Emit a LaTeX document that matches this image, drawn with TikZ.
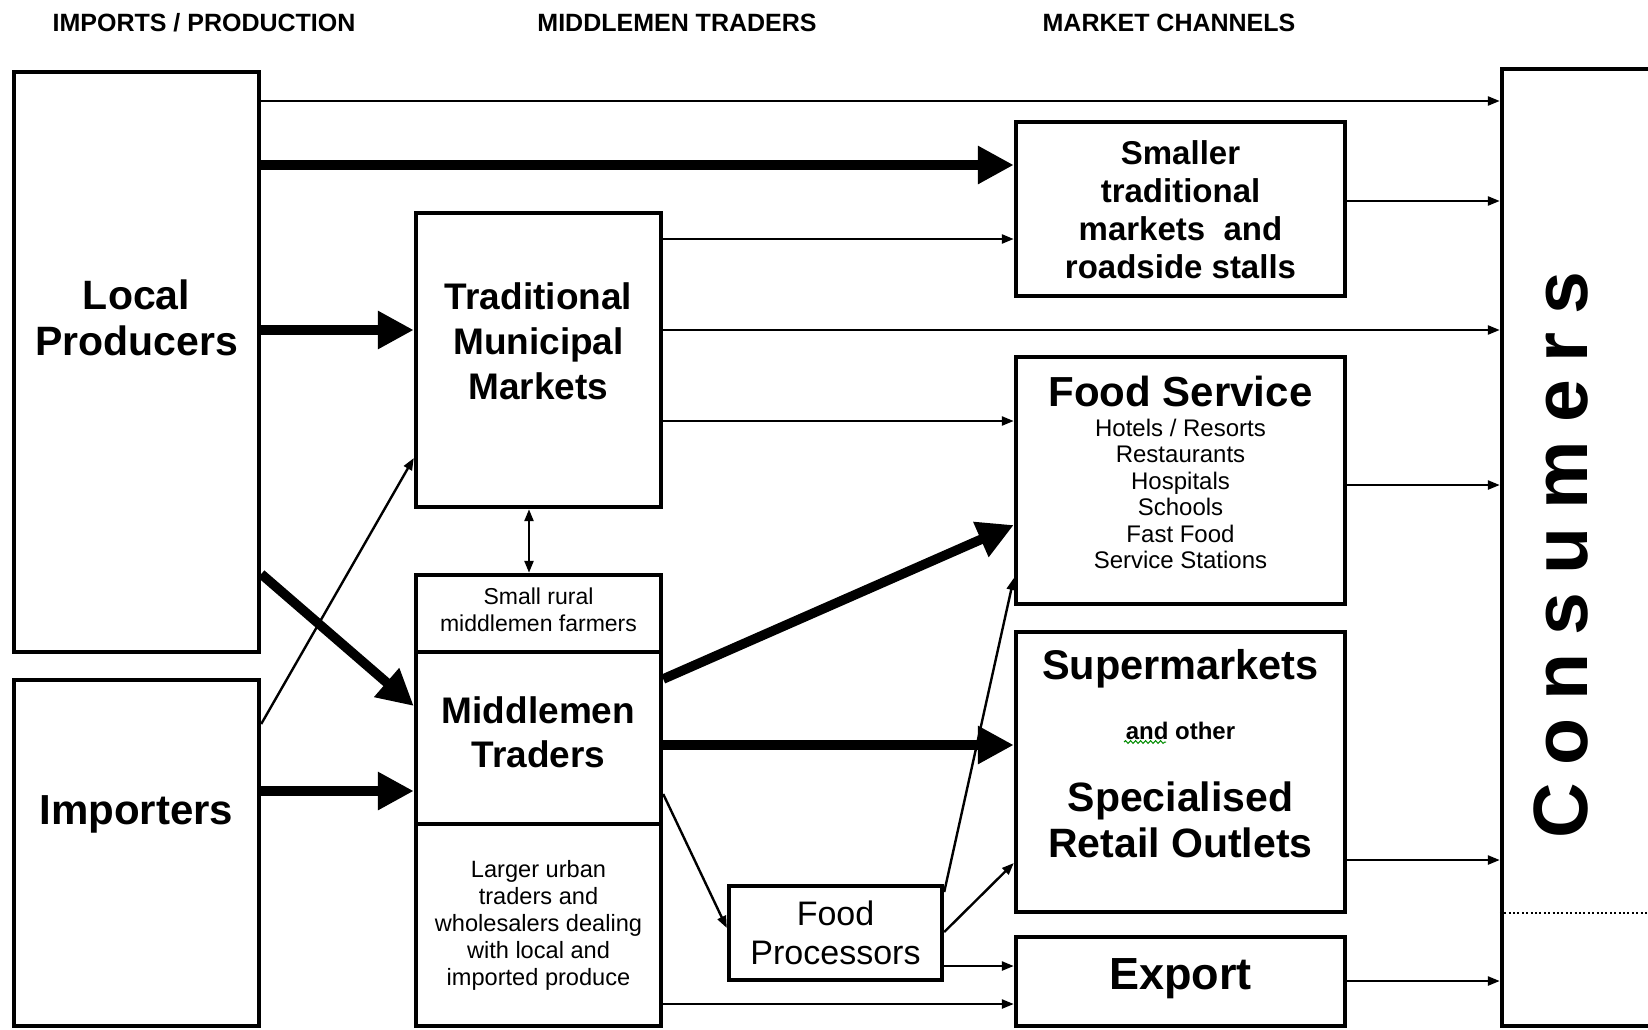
\documentclass[tikz,border=0pt]{standalone}
\usepackage{fontspec}
\setmainfont{Liberation Sans}
\usetikzlibrary{arrows.meta,decorations.pathmorphing}
\newcommand{\fsz}[2]{\fontsize{#1}{#2}\selectfont}
\begin{document}
\begin{tikzpicture}[x=0.5pt,y=-0.5pt,
  box/.style={draw,line width=2.2pt,inner sep=0pt},
  lbl/.style={align=center,inner sep=0pt},
  thn/.style={line width=1.2pt,-{Triangle[length=6pt,width=4.5pt]}},
  thk/.style={line width=4.8pt,-{Triangle[length=18pt,width=18pt]}},
  dbl/.style={line width=1.2pt,{Triangle[length=6pt,width=4.5pt]}-{Triangle[length=6pt,width=4.5pt]}},
  hdr/.style={inner sep=0pt,font=\bfseries\fsz{12.5}{14}}]
\useasboundingbox (0,0) rectangle (1648,1029);
\fill[white] (0,0) rectangle (1648,1029);

% headers
\node[hdr] (h1) at (204,23) {IMPORTS / PRODUCTION};
\node[hdr] (h2) at (677,23) {MIDDLEMEN TRADERS};
\node[hdr] (h3) at (1169,23) {MARKET CHANNELS};

% boxes
\node[box,minimum width=122.5pt,minimum height=290pt] (LP) at (136.5,362) {};
\node[box,minimum width=122.5pt,minimum height=173pt] (IM) at (136.5,853) {};
\node[box,minimum width=122.5pt,minimum height=147pt] (TMM) at (538.5,360) {};
\node[box,minimum width=122.5pt,minimum height=38.5pt] (SR) at (538.5,613.5) {};
\node[box,minimum width=122.5pt,minimum height=86pt] (MT) at (538.5,738) {};
\node[box,minimum width=122.5pt,minimum height=101pt] (LU) at (538.5,925) {};
\node[box,minimum width=164.5pt,minimum height=87pt] (ST) at (1180.5,209) {};
\node[box,minimum width=164.5pt,minimum height=123.5pt] (FS) at (1180.5,480.5) {};
\node[box,minimum width=164.5pt,minimum height=140pt] (SM) at (1180.5,772) {};
\node[box,minimum width=164.5pt,minimum height=44.5pt] (EX) at (1180.5,981.5) {};
\node[box,minimum width=106.5pt,minimum height=47pt] (FP) at (835.5,933) {};
\node[box,minimum width=99pt,minimum height=478.5pt] (CONS) at (1601,547.5) {};

% texts
\node[lbl,font=\bfseries\fsz{20.5}{23}] (LPt) at (136.5,318) {Local\\Producers};
\node[lbl,font=\bfseries\fsz{21}{23}] (IMt) at (136.5,814) {Importers};
\node[lbl,font=\bfseries\fsz{18.5}{22.5}] (TMMt) at (538.5,341) {Traditional\\Municipal\\Markets};
\node[lbl,font=\fsz{11.5}{13.5}] (SRt) at (538.5,610) {Small rural\\middlemen farmers};
\node[lbl,font=\bfseries\fsz{18.5}{22}] (MTt) at (538.5,732) {Middlemen\\Traders};
\node[lbl,font=\fsz{11.8}{13.5}] (LUt) at (538.5,925) {Larger urban\\traders and\\wholesalers dealing\\with local and\\imported produce};
\node[lbl,font=\bfseries\fsz{16.5}{19}] (STt) at (1180.5,210) {Smaller\\traditional\\markets\ \ and\\roadside stalls};
\node[lbl,font=\bfseries\fsz{21}{23}] (FSt) at (1180.5,391) {Food Service};
\node[lbl,font=\fsz{12}{13.2}] (FSi) at (1180.5,494) {Hotels / Resorts\\Restaurants\\Hospitals\\Schools\\Fast Food\\Service Stations};
\node[lbl,font=\bfseries\fsz{20.75}{23}] (SMt) at (1180.5,669) {Supermarkets};
\node[lbl,font=\bfseries\fsz{12}{14}] (SMa) at (1180.5,731) {and other};
\node[lbl,font=\bfseries\fsz{20.5}{23}] (SMs) at (1180.5,820) {Specialised\\Retail Outlets};
\node[lbl,font=\bfseries\fsz{22.5}{24}] (EXt) at (1180.5,979) {Export};
\node[lbl,font=\fsz{17}{19.5}] (FPt) at (835.5,933) {Food\\Processors};
\node[lbl,font=\bfseries\fsz{38.5}{40},rotate=90] (CONSt) at (1561,555)
  {C\kern9pt o\kern9pt n\kern9pt s\kern9pt u\kern9pt m\kern9pt e\kern9pt r\kern9pt s};

% spell-check squiggle
\draw[green!55!black,line width=0.5pt,decorate,decoration={snake,amplitude=0.7pt,segment length=2.5pt}] (1124,742) -- (1166,742);

% dotted line in consumers
\coordinate (dotend) at (1648,913);
\draw[line width=1pt,dash pattern=on 1pt off 1.2pt] (CONS.west |- 0,913) -- (dotend);

% connectors
\draw[thn] (LP.east |- 0,101) -- (CONS.west |- 0,101);
\draw[thk] (LP.east |- 0,165) -- (ST.west |- 0,165);
\draw[thk] (LP.east |- 0,330) -- (TMM.west |- 0,330);
\draw[thk] (LP.east |- 0,574) -- (MT.west |- 0,706);
\draw[thn] (IM.east |- 0,724) -- (TMM.west |- 0,458);
\draw[thk] (IM.east |- 0,791) -- (MT.west |- 0,791);
\draw[dbl] (TMM.south -| 529,0) -- (SR.north -| 529,0);
\draw[thn] (TMM.east |- 0,239) -- (ST.west |- 0,239);
\draw[thn] (TMM.east |- 0,330) -- (CONS.west |- 0,330);
\draw[thn] (TMM.east |- 0,421) -- (FS.west |- 0,421);
\draw[thk] (MT.east |- 0,679) -- (FS.west |- 0,525);
\draw[thk] (MT.east |- 0,745) -- (SM.west |- 0,745);
\draw[thn] (MT.east |- 0,794) -- (FP.west |- 0,928);
\draw[thn] (LU.east |- 0,1004) -- (EX.west |- 0,1004);
\draw[thn] (FP.east |- 0,892) -- (FS.west |- 0,578);
\draw[thn] (FP.east |- 0,932) -- (SM.west |- 0,863);
\draw[thn] (FP.east |- 0,966) -- (EX.west |- 0,966);
\draw[thn] (ST.east |- 0,201) -- (CONS.west |- 0,201);
\draw[thn] (FS.east |- 0,485) -- (CONS.west |- 0,485);
\draw[thn] (SM.east |- 0,860) -- (CONS.west |- 0,860);
\draw[thn] (EX.east |- 0,981) -- (CONS.west |- 0,981);
\end{tikzpicture}
\end{document}
